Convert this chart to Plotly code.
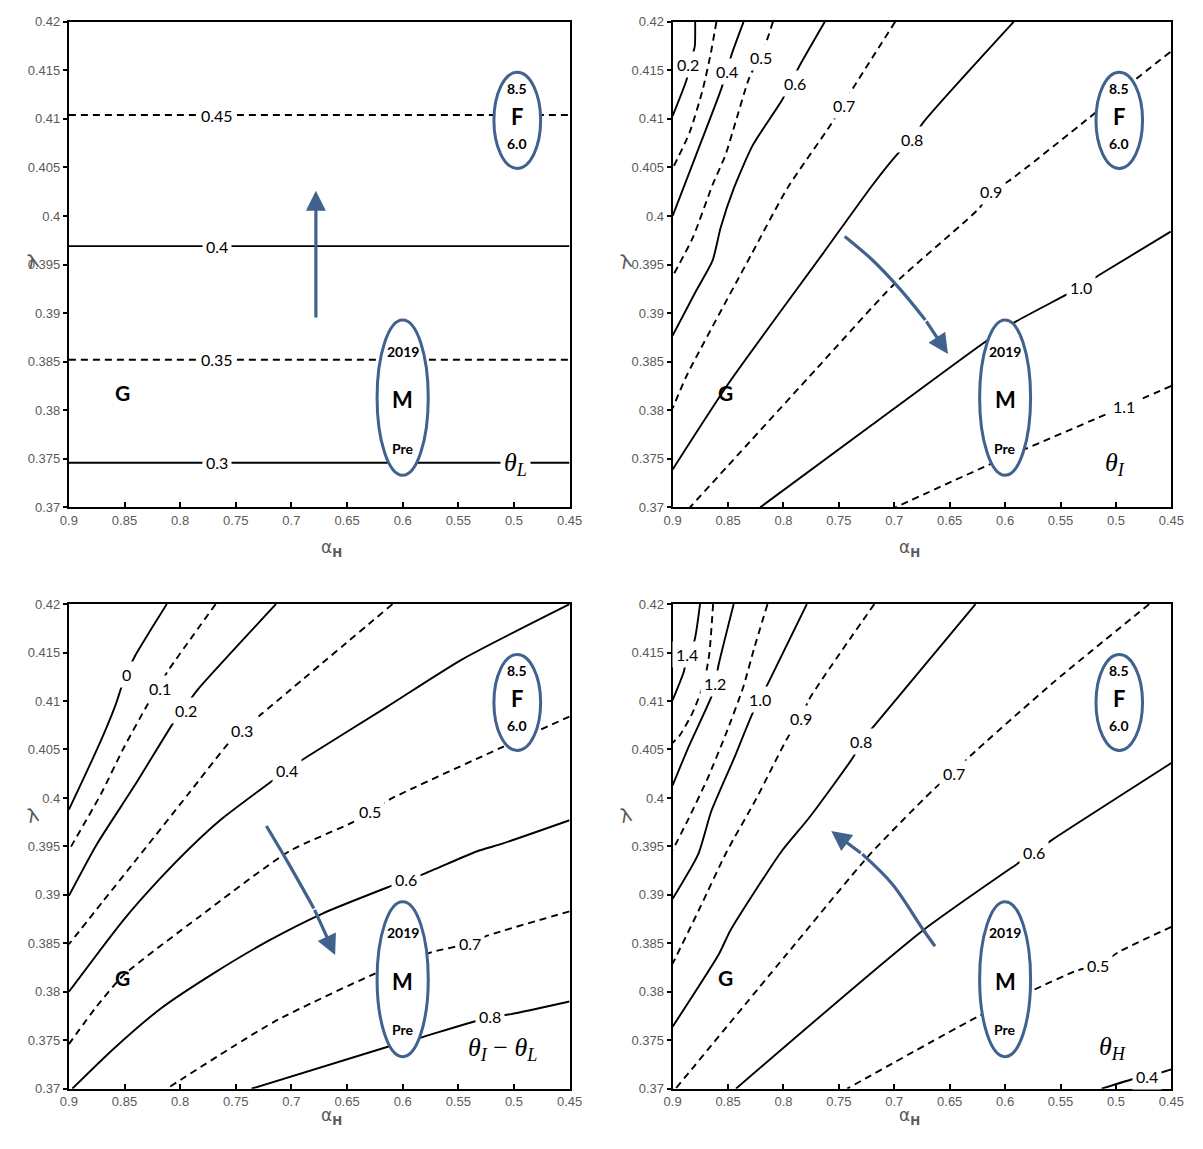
import plotly.graph_objects as go

# ---------------- axes ----------------
ALPHA_RANGE = [0.9, 0.45]
LAMBDA_RANGE = [0.37, 0.42]
ALPHA_TICKS = [0.9, 0.85, 0.8, 0.75, 0.7, 0.65, 0.6, 0.55, 0.5, 0.45]
ALPHA_TICK_TEXT = ["0.9", "0.85", "0.8", "0.75", "0.7", "0.65", "0.6", "0.55", "0.5", "0.45"]
LAMBDA_TICKS = [0.37, 0.375, 0.38, 0.385, 0.39, 0.395, 0.4, 0.405, 0.41, 0.415, 0.42]
LAMBDA_TICK_TEXT = ["0.37", "0.375", "0.38", "0.385", "0.39", "0.395", "0.4", "0.405", "0.41", "0.415", "0.42"]

# ---------------- panel 1: theta_L (horizontal contours) ----------------
THETA_L_LEVELS = ["0.3", "0.35", "0.4", "0.45"]
THETA_L_LAMBDA = [0.3746, 0.3852, 0.3969, 0.4104]
THETA_L_LABEL_ALPHA = 0.767

# ---------------- panel 2: theta_I ----------------
THETA_I_LEVELS = ["0.2", "0.3", "0.4", "0.5", "0.6", "0.7", "0.8", "0.9", "1.0", "1.1"]
THETA_I_ALPHA = [
    [0.8797, 0.8800, 0.8835, 0.8875, 0.9],
    [0.8605, 0.8655, 0.8729, 0.8847, 0.9],
    [0.836, 0.8463, 0.8558, 0.8788, 0.9],
    [0.8095, 0.8169, 0.831, 0.8434, 0.8523, 0.864, 0.8817, 0.9],
    [0.7627, 0.7863, 0.801, 0.8277, 0.845, 0.8567, 0.864, 0.8788, 0.9],
    [0.6992, 0.7376, 0.7568, 0.7963, 0.8287, 0.8876, 0.9],
    [0.5923, 0.6735, 0.6839, 0.697, 0.7196, 0.764, 0.8493, 0.9],
    [0.4509, 0.483, 0.5244, 0.5968, 0.613, 0.6234, 0.70, 0.77, 0.83, 0.8844],
    [0.4506, 0.514, 0.5318, 0.5923, 0.621, 0.72, 0.821],
    [0.45, 0.4923, 0.6143, 0.699],
]
THETA_I_LAMBDA = [
    [0.42, 0.4175, 0.4160, 0.4140, 0.4103],
    [0.42, 0.4168, 0.413, 0.4086, 0.4049],
    [0.42, 0.4168, 0.4132, 0.4063, 0.40],
    [0.42, 0.4175, 0.4142, 0.4096, 0.4063, 0.4032, 0.3978, 0.3938],
    [0.42, 0.4153, 0.412, 0.4073, 0.4028, 0.3988, 0.3954, 0.3923, 0.3877],
    [0.42, 0.4131, 0.4095, 0.4029, 0.3961, 0.3835, 0.3802],
    [0.42, 0.4097, 0.4079, 0.4064, 0.4032, 0.3962, 0.3828, 0.3739],
    [0.4169, 0.414, 0.4101, 0.4036, 0.4025, 0.4008, 0.393, 0.3843, 0.3768, 0.37],
    [0.3984, 0.3940, 0.3927, 0.389, 0.3868, 0.3785, 0.37],
    [0.3825, 0.3804, 0.3744, 0.37],
]
THETA_I_LABEL_ALPHA = [0.8861, None, 0.8508, 0.8207, 0.7899, 0.745, 0.6839, 0.613, 0.5318, 0.4923]
THETA_I_LABEL_LAMBDA = [0.4156, None, 0.4149, 0.4163, 0.4136, 0.4114, 0.4079, 0.4025, 0.3926, 0.3804]

# ---------------- panel 3: theta_I - theta_L ----------------
DIFF_LEVELS = ["0", "0.1", "0.2", "0.3", "0.4", "0.5", "0.6", "0.7", "0.8"]
DIFF_ALPHA = [
    [0.812, 0.8256, 0.8408, 0.8486, 0.8526, 0.8577, 0.8679, 0.8848, 0.9],
    [0.7681, 0.8104, 0.8178, 0.829, 0.851, 0.8712, 0.9],
    [0.7139, 0.7833, 0.7951, 0.8053, 0.8408, 0.875, 0.9],
    [0.6091, 0.7275, 0.7444, 0.7562, 0.7934, 0.839, 0.8696, 0.9],
    [0.45, 0.5465, 0.6141, 0.6852, 0.7038, 0.7156, 0.763, 0.788, 0.8171, 0.851, 0.9],
    [0.45, 0.5093, 0.6108, 0.6294, 0.6446, 0.702, 0.7833, 0.851, 0.875, 0.9],
    [0.45, 0.5126, 0.533, 0.5803, 0.5972, 0.6108, 0.6716, 0.72, 0.77, 0.8171, 0.86, 0.897],
    [0.45, 0.5262, 0.5397, 0.5735, 0.6243, 0.7156, 0.812],
    [0.45, 0.5025, 0.5211, 0.5888, 0.6141, 0.7359],
]
DIFF_LAMBDA = [
    [0.42, 0.4175, 0.4146, 0.4127, 0.4115, 0.4097, 0.4068, 0.4025, 0.3988],
    [0.42, 0.4132, 0.4118, 0.4097, 0.4051, 0.4004, 0.3946],
    [0.42, 0.4113, 0.4095, 0.4079, 0.4013, 0.3952, 0.3899],
    [0.42, 0.4086, 0.407, 0.4057, 0.4003, 0.3937, 0.3893, 0.3849],
    [0.42, 0.4143, 0.4094, 0.4043, 0.4029, 0.4019, 0.3978, 0.3952, 0.3918, 0.3874, 0.38],
    [0.4084, 0.4053, 0.3999, 0.3986, 0.3975, 0.3945, 0.3877, 0.3817, 0.3785, 0.3746],
    [0.3977, 0.3952, 0.3945, 0.3922, 0.3915, 0.3909, 0.3881, 0.3853, 0.3819, 0.3783, 0.3741, 0.37],
    [0.3883, 0.3857, 0.385, 0.3841, 0.3819, 0.3769, 0.37],
    [0.379, 0.3777, 0.3774, 0.3751, 0.3743, 0.37],
]
DIFF_LABEL_ALPHA = [0.8486, 0.8178, 0.7951, 0.7444, 0.7038, 0.6294, 0.5972, 0.5397, 0.5211]
DIFF_LABEL_LAMBDA = [0.4127, 0.4113, 0.409, 0.407, 0.4028, 0.3986, 0.3916, 0.385, 0.3774]

# ---------------- panel 4: theta_H ----------------
THETA_H_LEVELS = ["0.4", "0.5", "0.6", "0.7", "0.8", "0.9", "1.0", "1.1", "1.2", "1.3", "1.4"]
THETA_H_ALPHA = [
    [0.45, 0.4585, 0.4721, 0.4874, 0.5129],
    [0.45, 0.4976, 0.5163, 0.535, 0.5759, 0.6252, 0.7425],
    [0.45, 0.5573, 0.5737, 0.5878, 0.6745, 0.8429],
    [0.47, 0.5556, 0.6317, 0.647, 0.6605, 0.721, 0.7969, 0.8973],
    [0.6267, 0.7163, 0.7298, 0.7366, 0.7772, 0.8023, 0.848, 0.8582, 0.9],
    [0.718, 0.7772, 0.784, 0.7958, 0.8246, 0.851, 0.8752, 0.9],
    [0.7789, 0.8127, 0.8212, 0.828, 0.8449, 0.8652, 0.8769, 0.9],
    [0.8144, 0.8263, 0.8364, 0.8516, 0.8685, 0.8855, 0.9],
    [0.8449, 0.8584, 0.8618, 0.8652, 0.8855, 0.9],
    [0.8635, 0.8669, 0.8719, 0.882, 0.8939, 0.9],
    [0.8753, 0.8804, 0.8865, 0.89, 0.9],
]
THETA_H_LAMBDA = [
    [0.372, 0.3717, 0.3713, 0.3709, 0.37],
    [0.3867, 0.3841, 0.3827, 0.3822, 0.3801, 0.3774, 0.37],
    [0.4036, 0.3957, 0.3944, 0.3933, 0.3863, 0.37],
    [0.42, 0.412, 0.4043, 0.4025, 0.4013, 0.3943, 0.3839, 0.37],
    [0.42, 0.4077, 0.4058, 0.4043, 0.3979, 0.3944, 0.3863, 0.3839, 0.3764],
    [0.42, 0.4101, 0.4082, 0.4063, 0.3999, 0.3945, 0.3887, 0.3829],
    [0.42, 0.4121, 0.4102, 0.4087, 0.404, 0.3986, 0.3942, 0.3896],
    [0.42, 0.4155, 0.4114, 0.4067, 0.402, 0.3979, 0.3946],
    [0.42, 0.4138, 0.4118, 0.4104, 0.4053, 0.4013],
    [0.42, 0.4149, 0.4118, 0.4088, 0.4064, 0.4057],
    [0.42, 0.4162, 0.4148, 0.413, 0.4101],
]
THETA_H_LABEL_ALPHA = [0.4721, 0.5163, 0.5737, 0.6463, 0.7298, 0.784, 0.8212, None, 0.8618, None, 0.8871]
THETA_H_LABEL_LAMBDA = [0.3713, 0.3827, 0.3944, 0.4025, 0.4058, 0.4082, 0.4102, None, 0.4118, None, 0.4148]

# ---------------- markers ----------------
G_ALPHA = 0.852
G_LAMBDA = [0.3818, 0.3818, 0.3815, 0.3815]
M_ALPHA = 0.6
M_ALPHA_SPAN = [0.623, 0.577]
M_LAMBDA_SPAN = [0.3733, 0.3893]
M_TEXT = ["2019", "M", "Pre"]
M_TEXT_LAMBDA = [0.3861, 0.3811, 0.3761]
F_ALPHA = 0.497
F_ALPHA_SPAN = [0.518, 0.476]
F_LAMBDA_SPAN = [0.4049, 0.4148]
F_TEXT = ["8.5", "F", "6.0"]
F_TEXT_LAMBDA = [0.4131, 0.4103, 0.4075]

ARROW_ALPHA = [
    [0.678, 0.678],
    [0.7447, 0.72, 0.695, 0.672, 0.6516],
    [0.7225, 0.7034, 0.6798, 0.6607],
    [0.6633, 0.6745, 0.7017, 0.7289, 0.7569],
]
ARROW_LAMBDA = [
    [0.3894, 0.4026],
    [0.3979, 0.3955, 0.3925, 0.3893, 0.3858],
    [0.3971, 0.3934, 0.3886, 0.3838],
    [0.3847, 0.3865, 0.3911, 0.3942, 0.3966],
]

PANEL_TAGS = ["<i>θ</i><sub><i>L</i></sub>", "<i>θ</i><sub><i>I</i></sub>",
              "<i>θ</i><sub><i>I</i></sub> − <i>θ</i><sub><i>L</i></sub>", "<i>θ</i><sub><i>H</i></sub>"]
PANEL_TAG_ALPHA = [0.4986, 0.5012, 0.51, 0.503]
PANEL_TAG_LAMBDA = [0.3745, 0.3745, 0.3741, 0.3742]

# ---------------- layout geometry (pixels) ----------------
W, H = 1203, 1149
COLS = [(61, 571), (676, 1184)]
ROWS = [(15, 507), (605, 1096)]
BLUE = "#41628e"
GRAY = "#5a5a5a"
LABEL_FONT = dict(family="Lato, Open Sans, sans-serif", size=16, color="black")

fig = go.Figure()

panels = []
for r in range(2):
    for c in range(2):
        panels.append((c, r))

axis_names = [("x", "y"), ("x2", "y2"), ("x3", "y3"), ("x4", "y4")]


def add_line(p, xs, ys, dashed):
    xr, yr = axis_names[p]
    fig.add_trace(go.Scatter(
        x=xs, y=ys, mode="lines", xaxis=xr, yaxis=yr,
        line=dict(color="black", width=1.9, dash="7px,5px" if dashed else "solid",
                  shape="spline", smoothing=0.6),
        hoverinfo="skip", showlegend=False))


def add_label(p, text, a, l):
    xr, yr = axis_names[p]
    fig.add_annotation(x=a, y=l, xref=xr, yref=yr, text=text, showarrow=False,
                       bgcolor="white", borderpad=3, font=LABEL_FONT)


# Panel 1
for i, (lev, lam) in enumerate(zip(THETA_L_LEVELS, THETA_L_LAMBDA)):
    add_line(0, ALPHA_RANGE, [lam, lam], i % 2 == 1)
    add_label(0, lev, THETA_L_LABEL_ALPHA, lam)

# Panels 2-4
for p, (levels, A, L, LA, LL) in zip(
        [1, 2, 3],
        [(THETA_I_LEVELS, THETA_I_ALPHA, THETA_I_LAMBDA, THETA_I_LABEL_ALPHA, THETA_I_LABEL_LAMBDA),
         (DIFF_LEVELS, DIFF_ALPHA, DIFF_LAMBDA, DIFF_LABEL_ALPHA, DIFF_LABEL_LAMBDA),
         (THETA_H_LEVELS, THETA_H_ALPHA, THETA_H_LAMBDA, THETA_H_LABEL_ALPHA, THETA_H_LABEL_LAMBDA)]):
    for i, lev in enumerate(levels):
        add_line(p, A[i], L[i], i % 2 == 1)
    for i, lev in enumerate(levels):
        if LA[i] is not None:
            add_label(p, lev, LA[i], LL[i])

# Arrows
for p in range(4):
    xr, yr = axis_names[p]
    xs, ys = ARROW_ALPHA[p], ARROW_LAMBDA[p]
    if len(xs) > 2:
        fig.add_trace(go.Scatter(x=xs[:-1], y=ys[:-1], mode="lines", xaxis=xr, yaxis=yr,
                                 line=dict(color=BLUE, width=3.2, shape="spline"),
                                 hoverinfo="skip", showlegend=False))
    fig.add_annotation(x=xs[-1], y=ys[-1], ax=xs[-2], ay=ys[-2], xref=xr, yref=yr,
                       axref=xr, ayref=yr, text="", showarrow=True, arrowhead=2,
                       arrowsize=1.25, arrowwidth=3.2, arrowcolor=BLUE, standoff=0)

# Ellipses, markers, tags
for p in range(4):
    xr, yr = axis_names[p]
    fig.add_shape(type="circle", xref=xr, yref=yr, x0=M_ALPHA_SPAN[0], x1=M_ALPHA_SPAN[1],
                  y0=M_LAMBDA_SPAN[0], y1=M_LAMBDA_SPAN[1], fillcolor="white",
                  line=dict(color=BLUE, width=3), layer="above")
    fig.add_shape(type="circle", xref=xr, yref=yr, x0=F_ALPHA_SPAN[0], x1=F_ALPHA_SPAN[1],
                  y0=F_LAMBDA_SPAN[0], y1=F_LAMBDA_SPAN[1], fillcolor="white",
                  line=dict(color=BLUE, width=3), layer="above")
    for t, l in zip(M_TEXT, M_TEXT_LAMBDA):
        fig.add_annotation(x=M_ALPHA, y=l, xref=xr, yref=yr, text="<b>%s</b>" % t, showarrow=False,
                           font=dict(family="Lato, Open Sans, sans-serif", size=22 if t == "M" else 14,
                                     color="black"))
    for t, l in zip(F_TEXT, F_TEXT_LAMBDA):
        fig.add_annotation(x=F_ALPHA, y=l, xref=xr, yref=yr, text="<b>%s</b>" % t, showarrow=False,
                           font=dict(family="Lato, Open Sans, sans-serif", size=22 if t == "F" else 14,
                                     color="black"))
    fig.add_annotation(x=G_ALPHA, y=G_LAMBDA[p], xref=xr, yref=yr, text="<b>G</b>", showarrow=False,
                       font=dict(family="Lato, Open Sans, sans-serif", size=21, color="black"))
    fig.add_annotation(x=PANEL_TAG_ALPHA[p], y=PANEL_TAG_LAMBDA[p], xref=xr, yref=yr,
                       text=PANEL_TAGS[p], showarrow=False, bgcolor="white", borderpad=3,
                       font=dict(family="Liberation Serif, DejaVu Serif, serif", size=26, color="black"))

# Axes
layout_axes = {}
for p, (c, r) in enumerate(panels):
    x0, x1 = COLS[c]
    y0, y1 = ROWS[r]
    sfx = "" if p == 0 else str(p + 1)
    layout_axes["xaxis" + sfx] = dict(
        domain=[x0 / W, x1 / W], range=ALPHA_RANGE, anchor="y" + sfx,
        tickvals=ALPHA_TICKS, ticktext=ALPHA_TICK_TEXT, ticks="inside", ticklen=5,
        tickcolor="black", tickwidth=1.5, showgrid=False, zeroline=False,
        showline=True, mirror=True, linecolor="black", linewidth=2,
        tickfont=dict(family="Liberation Sans, Arial, sans-serif", size=13, color=GRAY))
    layout_axes["yaxis" + sfx] = dict(
        domain=[1 - y1 / H, 1 - y0 / H], range=LAMBDA_RANGE, anchor="x" + sfx,
        tickvals=LAMBDA_TICKS, ticktext=LAMBDA_TICK_TEXT, ticks="outside", ticklen=4,
        tickcolor="black", tickwidth=1.5, showgrid=False, zeroline=False,
        showline=True, mirror=True, linecolor="black", linewidth=2,
        tickfont=dict(family="Liberation Sans, Arial, sans-serif", size=13, color=GRAY))
    fig.add_annotation(x=(x0 + x1) / 2 / W, y=1 - (y1 + 42) / H, xref="paper", yref="paper",
                       text="α<sub><b>H</b></sub>", showarrow=False,
                       font=dict(family="DejaVu Sans, sans-serif", size=17, color=GRAY))
    fig.add_annotation(x=(x0 - 48) / W, y=1 - (y0 + 228) / H, xref="paper", yref="paper",
                       text="λ", showarrow=False, textangle=-15,
                       font=dict(family="DejaVu Sans, sans-serif", size=19, color=GRAY))

fig.update_layout(width=W, height=H, autosize=False, margin=dict(l=0, r=0, t=0, b=0),
                  paper_bgcolor="white", plot_bgcolor="white", showlegend=False, **layout_axes)

fig.write_html("out.html")
